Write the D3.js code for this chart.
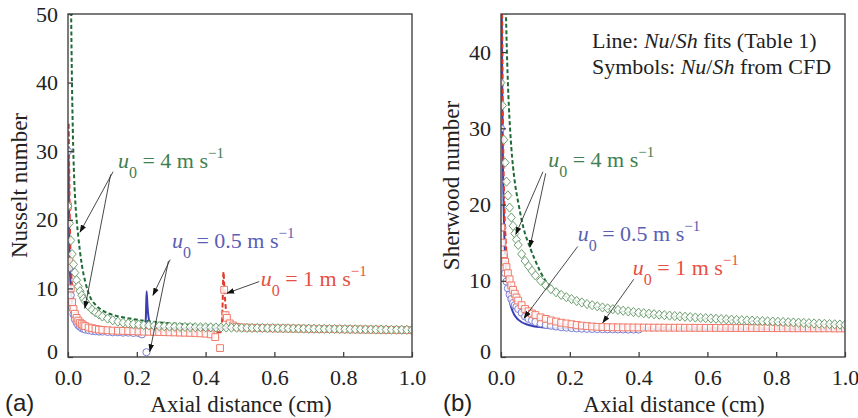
<!DOCTYPE html>
<html>
<head>
<meta charset="utf-8">
<script src="https://cdn.jsdelivr.net/npm/d3@7"></script>
<style>
  body { margin: 0; background: #fff; }
  svg { display: block; }
</style>
</head>
<body>
<svg id="chart" width="858" height="418"></svg>
<script>
// ---- data ----
// shared axial positions of the CFD symbols (cm)
const symX = [0, 0.004, 0.008, 0.012, 0.016, 0.02, 0.025, 0.03, 0.035, 0.04, 0.045, 0.05, 0.06, 0.07, 0.08, 0.09, 0.10,
  0.115, 0.13, 0.145, 0.16, 0.175, 0.19, 0.205, 0.22, 0.235, 0.25, 0.265, 0.28, 0.295, 0.31, 0.325, 0.34, 0.355, 0.37, 0.385, 0.40,
  0.415, 0.43, 0.445, 0.46, 0.475, 0.49, 0.505, 0.52, 0.535, 0.55, 0.565, 0.58, 0.595, 0.61, 0.625, 0.64, 0.655, 0.67, 0.685, 0.70,
  0.715, 0.73, 0.745, 0.76, 0.775, 0.79, 0.805, 0.82, 0.835, 0.85, 0.865, 0.88, 0.895, 0.91, 0.925, 0.94, 0.955, 0.97, 0.985, 1.0];

// (a) Nusselt, CFD symbols
const nuDiam4 = [22, 19.5, 17, 15, 13.5, 12.3, 11.2, 10.3, 9.6, 9.0, 8.5, 8.1, 7.4, 6.9, 6.5, 6.2, 5.9,
  5.6, 5.35, 5.15, 5.0, 4.9, 4.8, 4.72, 4.65, 4.6, 4.55,
  4.5, 4.47, 4.44, 4.42, 4.4, 4.38, 4.36, 4.35, 4.34, 4.33,
  4.32, 4.31, 4.3, 4.29, 4.28, 4.27, 4.26, 4.25, 4.24, 4.23,
  4.22, 4.21, 4.2, 4.19, 4.18, 4.17, 4.16, 4.15, 4.14, 4.13,
  4.12, 4.11, 4.1, 4.09, 4.08, 4.07, 4.06, 4.05, 4.04, 4.03,
  4.02, 4.01, 4.0, 4.0, 3.99, 3.98, 3.98, 3.97, 3.96, 3.95];
const nuSqX = [0, 0.004, 0.008, 0.012, 0.016, 0.02, 0.025, 0.03, 0.035, 0.04, 0.045, 0.05, 0.06, 0.07, 0.08, 0.09, 0.10,
  0.115, 0.13, 0.145, 0.16, 0.175, 0.19, 0.205, 0.22, 0.235, 0.25, 0.265, 0.28, 0.295, 0.31, 0.325, 0.34, 0.355, 0.37, 0.385, 0.40, 0.415,
  0.428, 0.442, 0.454, 0.458, 0.462, 0.47, 0.48, 0.49,
  0.505, 0.52, 0.535, 0.55, 0.565, 0.58, 0.595, 0.61, 0.625, 0.64, 0.655, 0.67, 0.685, 0.70, 0.715, 0.73, 0.745,
  0.76, 0.775, 0.79, 0.805, 0.82, 0.835, 0.85, 0.865, 0.88, 0.895, 0.91, 0.925, 0.94, 0.955, 0.97, 0.985, 1.0];
const nuSq1 = [22, 14, 10, 8, 7, 6.3, 5.7, 5.3, 5.0, 4.8, 4.6, 4.5, 4.3, 4.2, 4.1, 4.0, 3.95,
  3.9, 3.85, 3.82, 3.8, 3.78, 3.75, 3.72, 3.7, 3.68, 3.66, 3.64, 3.62, 3.6, 3.58, 3.56, 3.54, 3.52, 3.5, 3.45, 3.4, 3.3,
  2.9, 1.3, 9.8, 6.1, 5.7, 4.9, 4.6, 4.4,
  4.3, 4.28, 4.26, 4.24, 4.22, 4.2, 4.18, 4.17, 4.16, 4.15, 4.14, 4.13, 4.12, 4.11, 4.1, 4.09, 4.08,
  4.07, 4.06, 4.05, 4.04, 4.03, 4.02, 4.01, 4.0, 3.99, 3.98, 3.97, 3.96, 3.95, 3.94, 3.93, 3.92, 3.91];
const nuCircX = [0, 0.004, 0.008, 0.012, 0.016, 0.02, 0.025, 0.03, 0.035, 0.04, 0.045, 0.05, 0.06, 0.07, 0.08, 0.09, 0.10,
  0.115, 0.13, 0.145, 0.16, 0.175, 0.19, 0.205, 0.215, 0.228];
const nuCirc05 = [30, 13, 9, 7.2, 6.2, 5.5, 5.0, 4.6, 4.4, 4.2, 4.1, 4.0, 3.9, 3.8, 3.75, 3.7, 3.7,
  3.65, 3.6, 3.6, 3.55, 3.55, 3.5, 3.5, 3.3, 0.7];

// (a) Nusselt, fits
const nuFitX4 = [0.008, 0.011, 0.014, 0.018, 0.022, 0.026, 0.03, 0.04, 0.05, 0.064, 0.08, 0.1, 0.14, 0.18, 0.22, 0.3, 0.4, 0.6, 0.8, 1.0];
const nuFit4 = [56, 42, 33, 26, 22, 19.5, 17.5, 13.5, 11, 8.8, 7.6, 6.8, 6.0, 5.6, 5.3, 4.9, 4.6, 4.4, 4.25, 4.15];
const nuFitX1 = [0.002, 0.004, 0.006, 0.009, 0.013, 0.02, 0.03, 0.05, 0.1, 0.2, 0.3, 0.4,
  0.446, 0.449, 0.452, 0.455, 0.459, 0.464, 0.472, 0.485, 0.51, 0.6, 0.8, 1.0];
const nuFit1 = [34, 25, 18, 13, 9.5, 7, 5.6, 4.6, 4.0, 3.8, 3.7, 3.6,
  3.6, 7, 12.4, 9.5, 7, 5.6, 4.9, 4.6, 4.4, 4.3, 4.2, 4.1];
const nuFitX05 = [0.001, 0.003, 0.005, 0.008, 0.012, 0.018, 0.025, 0.04, 0.07, 0.12, 0.18,
  0.224, 0.2265, 0.2285, 0.231, 0.234, 0.238, 0.245, 0.26, 0.3, 0.5, 1.0];
const nuFit05 = [30, 20, 14, 10, 7.5, 5.8, 4.9, 4.2, 3.9, 3.75, 3.65,
  3.6, 6, 9.6, 7.5, 5.8, 4.9, 4.5, 4.3, 4.2, 4.15, 4.1];

// (b) Sherwood, CFD symbols
const shDiam4 = [36, 33, 28.5, 25.5, 23, 21.2, 19.6, 18.3, 17.2, 16.2, 15.4, 14.7, 13.5, 12.6, 11.9, 11.3, 10.7,
  10.0, 9.4, 8.9, 8.5, 8.15, 7.85, 7.6, 7.35, 7.15, 6.95,
  6.8, 6.65, 6.5, 6.38, 6.27, 6.17, 6.07, 5.98, 5.9, 5.82,
  5.75, 5.68, 5.61, 5.55, 5.49, 5.43, 5.38, 5.33, 5.28, 5.23,
  5.18, 5.14, 5.1, 5.06, 5.02, 4.98, 4.94, 4.9, 4.86, 4.83,
  4.8, 4.77, 4.74, 4.71, 4.68, 4.65, 4.62, 4.59, 4.56, 4.53,
  4.5, 4.47, 4.44, 4.41, 4.38, 4.35, 4.32, 4.29, 4.26, 4.23];
const shSq1 = [17, 15, 13.5, 12.5, 11.8, 11.0, 10.2, 9.4, 8.8, 8.3, 7.8, 7.4, 6.8, 6.3, 6.0, 5.7, 5.5,
  5.2, 5.0, 4.8, 4.65, 4.5, 4.4, 4.3, 4.2, 4.12, 4.05,
  4.0, 3.96, 3.93, 3.91, 3.9, 3.89, 3.88, 3.88, 3.87, 3.87,
  3.86, 3.86, 3.85, 3.85, 3.85, 3.84, 3.84, 3.84, 3.83, 3.83,
  3.83, 3.82, 3.82, 3.82, 3.81, 3.81, 3.81, 3.8, 3.8, 3.8,
  3.8, 3.79, 3.79, 3.79, 3.79, 3.78, 3.78, 3.78, 3.78, 3.77,
  3.77, 3.77, 3.77, 3.76, 3.76, 3.76, 3.76, 3.75, 3.75, 3.75];
const shCirc05 = [30, 17, 13, 11, 9.9, 9.0, 8.2, 7.6, 7.1, 6.8, 6.6, 6.3, 5.8, 5.3, 5.0, 4.8, 4.6,
  4.4, 4.2, 4.1, 4.0, 3.9, 3.85, 3.8, 3.75, 3.72, 3.7,
  3.68, 3.66, 3.65, 3.64, 3.63, 3.62, 3.61, 3.6, 3.6, 3.6];

// (b) Sherwood, fits
const shFitX4 = [0.013, 0.016, 0.02, 0.025, 0.03, 0.04, 0.05, 0.065, 0.084, 0.1, 0.128, 0.15, 0.18, 0.25, 0.35, 0.5, 0.7, 0.85, 1.0];
const shFit4 = [48, 42, 36, 31, 27.5, 23, 20.3, 17, 14.4, 12.6, 10.1, 9.0, 8.1, 6.9, 6.0, 5.3, 4.8, 4.5, 4.25];
const shFitX1 = [0.003, 0.005, 0.007, 0.01, 0.014, 0.02, 0.03, 0.05, 0.08, 0.12, 0.2, 0.3, 0.5, 0.7, 1.0];
const shFit1 = [48, 34, 26, 19.5, 15, 11.5, 9.2, 7.0, 5.6, 4.8, 4.2, 3.95, 3.85, 3.8, 3.75];
const shFitX05 = [0.002, 0.004, 0.006, 0.008, 0.01, 0.015, 0.02, 0.03, 0.05, 0.08, 0.12, 0.2, 0.3, 0.5, 1.0];
const shFit05 = [48, 32, 24, 19, 15.5, 11, 8.6, 6.5, 4.9, 4.2, 3.9, 3.7, 3.65, 3.6, 3.6];

const xTicks = [0, 0.2, 0.4, 0.6, 0.8, 1.0];
const nuTicks = [0, 10, 20, 30, 40, 50];
const shTicks = [0, 10, 20, 30, 40];

// colours
const GREEN = "#1f6b37", GREEN_TXT = "#3f7f50", GREEN_SYM = "#6e9f70";
const RED = "#e2392c", RED_TXT = "#e65042", RED_SYM = "#ef7a6a";
const BLUE = "#3a3eb0", BLUE_TXT = "#5a5eb4", BLUE_SYM = "#7b7fd6";
const SERIF = "'Liberation Serif', 'Times New Roman', serif";

const svg = d3.select("#chart");
const defs = svg.append("defs");
defs.append("marker")
    .attr("id", "arrow")
    .attr("viewBox", "0 0 10 10")
    .attr("refX", 9).attr("refY", 5)
    .attr("markerWidth", 8).attr("markerHeight", 8)
    .attr("markerUnits", "userSpaceOnUse")
    .attr("orient", "auto")
  .append("path")
    .attr("d", "M0,1.5L10,5L0,8.5Z")
    .attr("fill", "#111");

const diamondPath = "M0,-4.6L4,0L0,4.6L-4,0Z";
const squarePath = "M-3.4,-3.4H3.4V3.4H-3.4Z";
const circlePath = d3.symbol(d3.symbolCircle, 40)();

// draw a u0 label with subscript and superscript
const speedLabel = (g, x, y, color, val) => {
    const t = g.append("text")
        .attr("x", x).attr("y", y)
        .attr("fill", color)
        .attr("font-family", SERIF)
        .attr("font-size", 22);
    t.append("tspan").attr("font-style", "italic").text("u");
    t.append("tspan").attr("dy", 10).attr("font-size", 16).text("0");
    t.append("tspan").attr("dy", -10).text(` = ${val} m s`);
    t.append("tspan").attr("dy", -10).attr("font-size", 15).text("\u22121");
};

const panels = [
  {
    id: "a", left: 68, right: 412, top: 14, bottom: 357, yMax: 50, yTicks: nuTicks,
    yTitle: "Nusselt number", yTitleX: 19, tag: "(a)", tagX: 5,
    fits: [
      { x: nuFitX05, y: nuFit05, color: BLUE, dash: null, w: 2 },
      { x: nuFitX1, y: nuFit1, color: RED, dash: "5,2.5", w: 2 },
      { x: nuFitX4, y: nuFit4, color: GREEN, dash: "4,2.5", w: 2 }
    ],
    syms: [
      { x: nuCircX, y: nuCirc05, path: circlePath, color: BLUE_SYM },
      { x: nuSqX, y: nuSq1, path: squarePath, color: RED_SYM },
      { x: symX, y: nuDiam4, path: diamondPath, color: GREEN_SYM }
    ],
    labels: [
      { x: 0.145, y: 27.5, color: GREEN_TXT, val: "4" },
      { x: 0.302, y: 15.9, color: BLUE_TXT, val: "0.5" },
      { x: 0.56, y: 10.4, color: RED_TXT, val: "1" }
    ],
    arrows: [
      [0.131, 27.0, 0.035, 18.2], [0.124, 26.6, 0.049, 7.1],
      [0.297, 14.2, 0.247, 9.0], [0.292, 14.0, 0.238, 0.8],
      [0.556, 11.0, 0.462, 9.3]
    ]
  },
  {
    id: "b", left: 501, right: 845, top: 14, bottom: 357, yMax: 45, yTicks: shTicks,
    yTitle: "Sherwood number", yTitleX: 451, tag: "(b)", tagX: 443,
    fits: [
      { x: shFitX05, y: shFit05, color: BLUE, dash: null, w: 2 },
      { x: shFitX1, y: shFit1, color: RED, dash: "5,2.5", w: 2 },
      { x: shFitX4, y: shFit4, color: GREEN, dash: "4,2.5", w: 2 }
    ],
    syms: [
      { x: symX, y: shCirc05, path: circlePath, color: BLUE_SYM },
      { x: symX, y: shSq1, path: squarePath, color: RED_SYM },
      { x: symX, y: shDiam4, path: diamondPath, color: GREEN_SYM }
    ],
    labels: [
      { x: 0.137, y: 24.9, color: GREEN_TXT, val: "4" },
      { x: 0.223, y: 15.2, color: BLUE_TXT, val: "0.5" },
      { x: 0.383, y: 10.7, color: RED_TXT, val: "1" }
    ],
    arrows: [
      [0.122, 24.3, 0.043, 16.1], [0.130, 24.1, 0.084, 14.4],
      [0.223, 14.5, 0.067, 5.1],
      [0.386, 10.2, 0.296, 4.5]
    ]
  }
];

panels.forEach(p => {
    const x = d3.scaleLinear().domain([0, 1]).range([p.left, p.right]);
    const y = d3.scaleLinear().domain([0, p.yMax]).range([p.bottom, p.top]);
    const g = svg.append("g");

    defs.append("clipPath").attr("id", "clip-" + p.id)
      .append("rect")
        .attr("x", p.left).attr("y", p.top)
        .attr("width", p.right - p.left).attr("height", p.bottom - p.top);

    const plot = g.append("g").attr("clip-path", `url(#clip-${p.id})`);

    // fit lines
    p.fits.forEach(f => {
        const pts = d3.zip(f.x, f.y);
        plot.append("path")
            .datum(pts)
            .attr("fill", "none")
            .attr("stroke", f.color)
            .attr("stroke-width", f.w)
            .attr("stroke-dasharray", f.dash)
            .attr("d", d3.line().x(d => x(d[0])).y(d => y(d[1])).curve(d3.curveMonotoneX));
    });

    // CFD symbols
    p.syms.forEach(s => {
        plot.append("g")
            .selectAll("path")
            .data(d3.zip(s.x, s.y))
            .join("path")
            .attr("d", s.path)
            .attr("transform", d => `translate(${x(d[0])},${y(d[1])})`)
            .attr("fill", "#fff")
            .attr("fill-opacity", 0.85)
            .attr("stroke", s.color)
            .attr("stroke-width", 1);
    });

    // axes
    const xAxis = g.append("g")
        .attr("transform", `translate(0,${p.bottom})`)
        .call(d3.axisBottom(x).tickValues(xTicks).tickSize(-5).tickPadding(12).tickFormat(d3.format(".1f")));
    const yAxis = g.append("g")
        .attr("transform", `translate(${p.left},0)`)
        .call(d3.axisLeft(y).tickValues(p.yTicks).tickSize(-5).tickPadding(10));
    [xAxis, yAxis].forEach(a => {
        a.select(".domain").remove();
        a.selectAll("line").attr("stroke", "#333").attr("stroke-width", 1.2);
        a.selectAll("text")
            .attr("font-family", SERIF)
            .attr("font-size", 22)
            .attr("fill", "#222");
    });
    // lift the y "0" a touch so it clears the "0.0" below it
    yAxis.selectAll("text").filter(d => d === 0).attr("dy", "0.08em");

    // frame
    g.append("rect")
        .attr("x", p.left).attr("y", p.top)
        .attr("width", p.right - p.left).attr("height", p.bottom - p.top)
        .attr("fill", "none")
        .attr("stroke", "#444")
        .attr("stroke-width", 1.4);

    // annotations
    p.labels.forEach(l => speedLabel(g, x(l.x), y(l.y), l.color, l.val));
    p.arrows.forEach(a => {
        g.append("line")
            .attr("x1", x(a[0])).attr("y1", y(a[1]))
            .attr("x2", x(a[2])).attr("y2", y(a[3]))
            .attr("stroke", "#333")
            .attr("stroke-width", 0.9)
            .attr("marker-end", "url(#arrow)");
    });

    // titles
    g.append("text")
        .attr("transform", `translate(${p.yTitleX},${(p.top + p.bottom) / 2}) rotate(-90)`)
        .attr("text-anchor", "middle")
        .attr("dy", "0.35em")
        .attr("font-family", SERIF)
        .attr("font-size", 23)
        .attr("fill", "#222")
        .text(p.yTitle);
    g.append("text")
        .attr("x", (p.left + p.right) / 2 + 1)
        .attr("y", 412)
        .attr("text-anchor", "middle")
        .attr("font-family", SERIF)
        .attr("font-size", 23)
        .attr("fill", "#222")
        .text("Axial distance (cm)");
    g.append("text")
        .attr("x", p.tagX)
        .attr("y", 411)
        .attr("font-family", "'Liberation Sans', Arial, sans-serif")
        .attr("font-size", 24)
        .attr("fill", "#222")
        .text(p.tag);
});

// legend note in panel (b)
const note = svg.append("g")
    .attr("font-family", SERIF)
    .attr("font-size", 22)
    .attr("fill", "#222");
const n1 = note.append("text").attr("x", 592).attr("y", 48);
n1.append("tspan").text("Line: ");
n1.append("tspan").attr("font-style", "italic").text("Nu");
n1.append("tspan").text("/");
n1.append("tspan").attr("font-style", "italic").text("Sh");
n1.append("tspan").text(" fits (Table 1)");
const n2 = note.append("text").attr("x", 592).attr("y", 74);
n2.append("tspan").text("Symbols: ");
n2.append("tspan").attr("font-style", "italic").text("Nu");
n2.append("tspan").text("/");
n2.append("tspan").attr("font-style", "italic").text("Sh");
n2.append("tspan").text(" from CFD");
</script>
</body>
</html>
